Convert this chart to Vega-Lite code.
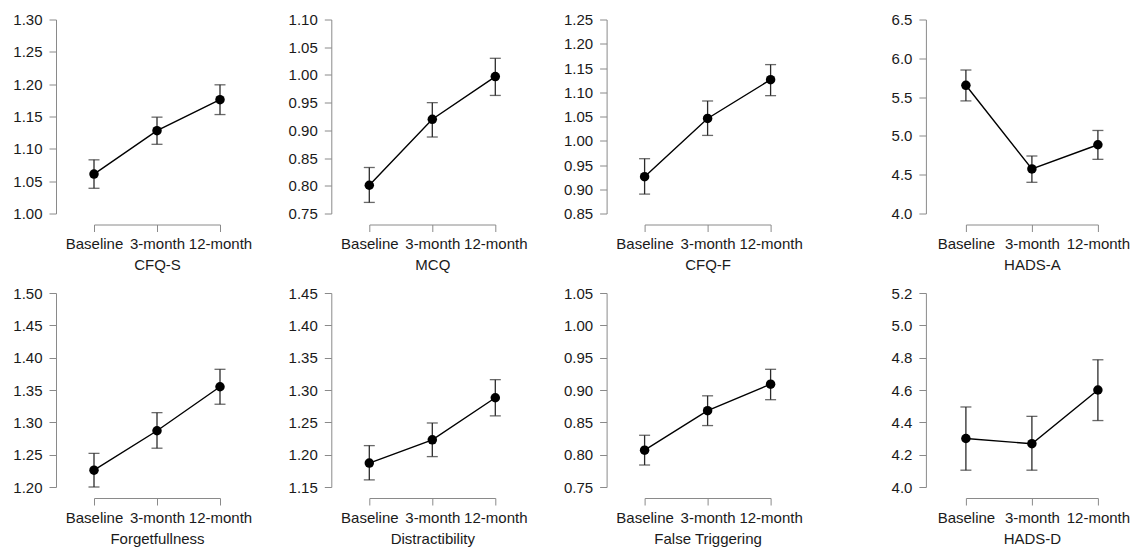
{
  "$schema": "https://vega.github.io/schema/vega-lite/v6.json",
  "padding": {"left": 6, "top": 12.5, "right": 0, "bottom": 0},
  "data": {"values": [
    {"panel": "CFQ-S", "time": "Baseline", "mean": 1.061, "lo": 1.039, "hi": 1.083},
    {"panel": "CFQ-S", "time": "3-month", "mean": 1.128, "lo": 1.107, "hi": 1.149},
    {"panel": "CFQ-S", "time": "12-month", "mean": 1.176, "lo": 1.153, "hi": 1.199},
    {"panel": "MCQ", "time": "Baseline", "mean": 0.801, "lo": 0.770, "hi": 0.833},
    {"panel": "MCQ", "time": "3-month", "mean": 0.920, "lo": 0.888, "hi": 0.950},
    {"panel": "MCQ", "time": "12-month", "mean": 0.997, "lo": 0.963, "hi": 1.030},
    {"panel": "CFQ-F", "time": "Baseline", "mean": 0.926, "lo": 0.890, "hi": 0.963},
    {"panel": "CFQ-F", "time": "3-month", "mean": 1.046, "lo": 1.011, "hi": 1.082},
    {"panel": "CFQ-F", "time": "12-month", "mean": 1.126, "lo": 1.093, "hi": 1.157},
    {"panel": "HADS-A", "time": "Baseline", "mean": 5.652, "lo": 5.451, "hi": 5.849},
    {"panel": "HADS-A", "time": "3-month", "mean": 4.574, "lo": 4.402, "hi": 4.741},
    {"panel": "HADS-A", "time": "12-month", "mean": 4.886, "lo": 4.698, "hi": 5.070},
    {"panel": "Forgetfullness", "time": "Baseline", "mean": 1.226, "lo": 1.200, "hi": 1.252},
    {"panel": "Forgetfullness", "time": "3-month", "mean": 1.287, "lo": 1.260, "hi": 1.315},
    {"panel": "Forgetfullness", "time": "12-month", "mean": 1.355, "lo": 1.328, "hi": 1.382},
    {"panel": "Distractibility", "time": "Baseline", "mean": 1.187, "lo": 1.161, "hi": 1.214},
    {"panel": "Distractibility", "time": "3-month", "mean": 1.223, "lo": 1.197, "hi": 1.249},
    {"panel": "Distractibility", "time": "12-month", "mean": 1.288, "lo": 1.260, "hi": 1.316},
    {"panel": "False Triggering", "time": "Baseline", "mean": 0.807, "lo": 0.784, "hi": 0.830},
    {"panel": "False Triggering", "time": "3-month", "mean": 0.868, "lo": 0.845, "hi": 0.891},
    {"panel": "False Triggering", "time": "12-month", "mean": 0.909, "lo": 0.885, "hi": 0.932},
    {"panel": "HADS-D", "time": "Baseline", "mean": 4.300, "lo": 4.104, "hi": 4.495},
    {"panel": "HADS-D", "time": "3-month", "mean": 4.268, "lo": 4.104, "hi": 4.437},
    {"panel": "HADS-D", "time": "12-month", "mean": 4.600, "lo": 4.411, "hi": 4.787}
  ]},
  "spacing": 13.5,
  "vconcat": [
    {
      "spacing": 29.3,
      "hconcat": [
        {
          "width": 126, "height": 194,
          "transform": [{"filter": "datum.panel == 'CFQ-S'"}],
          "encoding": {"x": {"field": "time", "type": "ordinal", "sort": ["Baseline", "3-month", "12-month"], "scale": {"type": "point", "padding": 0}, "axis": {"title": "CFQ-S"}}},
          "layer": [
            {"mark": {"type": "rule", "color": "#2b2b2b", "strokeWidth": 1.3}, "encoding": {"y": {"field": "lo", "type": "quantitative", "title": null, "scale": {"domain": [1.0, 1.3], "zero": false, "nice": false}, "axis": {"values": [1.0, 1.05, 1.1, 1.15, 1.2, 1.25, 1.3], "tickCount": 30, "format": ".2f", "offset": 38, "minExtent": 50}}, "y2": {"field": "hi"}}},
            {"mark": {"type": "tick", "color": "#2b2b2b", "size": 11, "thickness": 1.3}, "encoding": {"y": {"field": "lo", "type": "quantitative", "title": null}}},
            {"mark": {"type": "tick", "color": "#2b2b2b", "size": 11, "thickness": 1.3}, "encoding": {"y": {"field": "hi", "type": "quantitative", "title": null}}},
            {"mark": {"type": "line", "color": "#000000", "strokeWidth": 1.4}, "encoding": {"y": {"field": "mean", "type": "quantitative", "title": null}}},
            {"mark": {"type": "point", "filled": true, "color": "#000000", "size": 90, "opacity": 1}, "encoding": {"y": {"field": "mean", "type": "quantitative", "title": null}}}
          ]
        },
        {
          "width": 126, "height": 194,
          "transform": [{"filter": "datum.panel == 'MCQ'"}],
          "encoding": {"x": {"field": "time", "type": "ordinal", "sort": ["Baseline", "3-month", "12-month"], "scale": {"type": "point", "padding": 0}, "axis": {"title": "MCQ"}}},
          "layer": [
            {"mark": {"type": "rule", "color": "#2b2b2b", "strokeWidth": 1.3}, "encoding": {"y": {"field": "lo", "type": "quantitative", "title": null, "scale": {"domain": [0.75, 1.1], "zero": false, "nice": false}, "axis": {"values": [0.75, 0.8, 0.85, 0.9, 0.95, 1.0, 1.05, 1.1], "tickCount": 30, "format": ".2f", "offset": 38, "minExtent": 50}}, "y2": {"field": "hi"}}},
            {"mark": {"type": "tick", "color": "#2b2b2b", "size": 11, "thickness": 1.3}, "encoding": {"y": {"field": "lo", "type": "quantitative", "title": null}}},
            {"mark": {"type": "tick", "color": "#2b2b2b", "size": 11, "thickness": 1.3}, "encoding": {"y": {"field": "hi", "type": "quantitative", "title": null}}},
            {"mark": {"type": "line", "color": "#000000", "strokeWidth": 1.4}, "encoding": {"y": {"field": "mean", "type": "quantitative", "title": null}}},
            {"mark": {"type": "point", "filled": true, "color": "#000000", "size": 90, "opacity": 1}, "encoding": {"y": {"field": "mean", "type": "quantitative", "title": null}}}
          ]
        },
        {
          "width": 126, "height": 194,
          "transform": [{"filter": "datum.panel == 'CFQ-F'"}],
          "encoding": {"x": {"field": "time", "type": "ordinal", "sort": ["Baseline", "3-month", "12-month"], "scale": {"type": "point", "padding": 0}, "axis": {"title": "CFQ-F"}}},
          "layer": [
            {"mark": {"type": "rule", "color": "#2b2b2b", "strokeWidth": 1.3}, "encoding": {"y": {"field": "lo", "type": "quantitative", "title": null, "scale": {"domain": [0.85, 1.25], "zero": false, "nice": false}, "axis": {"values": [0.85, 0.9, 0.95, 1.0, 1.05, 1.1, 1.15, 1.2, 1.25], "tickCount": 30, "format": ".2f", "offset": 38, "minExtent": 50}}, "y2": {"field": "hi"}}},
            {"mark": {"type": "tick", "color": "#2b2b2b", "size": 11, "thickness": 1.3}, "encoding": {"y": {"field": "lo", "type": "quantitative", "title": null}}},
            {"mark": {"type": "tick", "color": "#2b2b2b", "size": 11, "thickness": 1.3}, "encoding": {"y": {"field": "hi", "type": "quantitative", "title": null}}},
            {"mark": {"type": "line", "color": "#000000", "strokeWidth": 1.4}, "encoding": {"y": {"field": "mean", "type": "quantitative", "title": null}}},
            {"mark": {"type": "point", "filled": true, "color": "#000000", "size": 90, "opacity": 1}, "encoding": {"y": {"field": "mean", "type": "quantitative", "title": null}}}
          ]
        },
        {
          "width": 132, "height": 194,
          "transform": [{"filter": "datum.panel == 'HADS-A'"}],
          "encoding": {"x": {"field": "time", "type": "ordinal", "sort": ["Baseline", "3-month", "12-month"], "scale": {"type": "point", "padding": 0}, "axis": {"title": "HADS-A"}}},
          "layer": [
            {"mark": {"type": "rule", "color": "#2b2b2b", "strokeWidth": 1.3}, "encoding": {"y": {"field": "lo", "type": "quantitative", "title": null, "scale": {"domain": [4.0, 6.5], "zero": false, "nice": false}, "axis": {"values": [4.0, 4.5, 5.0, 5.5, 6.0, 6.5], "tickCount": 30, "format": ".1f", "offset": 40, "minExtent": 94}}, "y2": {"field": "hi"}}},
            {"mark": {"type": "tick", "color": "#2b2b2b", "size": 11, "thickness": 1.3}, "encoding": {"y": {"field": "lo", "type": "quantitative", "title": null}}},
            {"mark": {"type": "tick", "color": "#2b2b2b", "size": 11, "thickness": 1.3}, "encoding": {"y": {"field": "hi", "type": "quantitative", "title": null}}},
            {"mark": {"type": "line", "color": "#000000", "strokeWidth": 1.4}, "encoding": {"y": {"field": "mean", "type": "quantitative", "title": null}}},
            {"mark": {"type": "point", "filled": true, "color": "#000000", "size": 90, "opacity": 1}, "encoding": {"y": {"field": "mean", "type": "quantitative", "title": null}}}
          ]
        }
      ]
    },
    {
      "spacing": 29.3,
      "hconcat": [
        {
          "width": 126, "height": 194,
          "transform": [{"filter": "datum.panel == 'Forgetfullness'"}],
          "encoding": {"x": {"field": "time", "type": "ordinal", "sort": ["Baseline", "3-month", "12-month"], "scale": {"type": "point", "padding": 0}, "axis": {"title": "Forgetfullness"}}},
          "layer": [
            {"mark": {"type": "rule", "color": "#2b2b2b", "strokeWidth": 1.3}, "encoding": {"y": {"field": "lo", "type": "quantitative", "title": null, "scale": {"domain": [1.2, 1.5], "zero": false, "nice": false}, "axis": {"values": [1.2, 1.25, 1.3, 1.35, 1.4, 1.45, 1.5], "tickCount": 30, "format": ".2f", "offset": 38, "minExtent": 50}}, "y2": {"field": "hi"}}},
            {"mark": {"type": "tick", "color": "#2b2b2b", "size": 11, "thickness": 1.3}, "encoding": {"y": {"field": "lo", "type": "quantitative", "title": null}}},
            {"mark": {"type": "tick", "color": "#2b2b2b", "size": 11, "thickness": 1.3}, "encoding": {"y": {"field": "hi", "type": "quantitative", "title": null}}},
            {"mark": {"type": "line", "color": "#000000", "strokeWidth": 1.4}, "encoding": {"y": {"field": "mean", "type": "quantitative", "title": null}}},
            {"mark": {"type": "point", "filled": true, "color": "#000000", "size": 90, "opacity": 1}, "encoding": {"y": {"field": "mean", "type": "quantitative", "title": null}}}
          ]
        },
        {
          "width": 126, "height": 194,
          "transform": [{"filter": "datum.panel == 'Distractibility'"}],
          "encoding": {"x": {"field": "time", "type": "ordinal", "sort": ["Baseline", "3-month", "12-month"], "scale": {"type": "point", "padding": 0}, "axis": {"title": "Distractibility"}}},
          "layer": [
            {"mark": {"type": "rule", "color": "#2b2b2b", "strokeWidth": 1.3}, "encoding": {"y": {"field": "lo", "type": "quantitative", "title": null, "scale": {"domain": [1.15, 1.45], "zero": false, "nice": false}, "axis": {"values": [1.15, 1.2, 1.25, 1.3, 1.35, 1.4, 1.45], "tickCount": 30, "format": ".2f", "offset": 38, "minExtent": 50}}, "y2": {"field": "hi"}}},
            {"mark": {"type": "tick", "color": "#2b2b2b", "size": 11, "thickness": 1.3}, "encoding": {"y": {"field": "lo", "type": "quantitative", "title": null}}},
            {"mark": {"type": "tick", "color": "#2b2b2b", "size": 11, "thickness": 1.3}, "encoding": {"y": {"field": "hi", "type": "quantitative", "title": null}}},
            {"mark": {"type": "line", "color": "#000000", "strokeWidth": 1.4}, "encoding": {"y": {"field": "mean", "type": "quantitative", "title": null}}},
            {"mark": {"type": "point", "filled": true, "color": "#000000", "size": 90, "opacity": 1}, "encoding": {"y": {"field": "mean", "type": "quantitative", "title": null}}}
          ]
        },
        {
          "width": 126, "height": 194,
          "transform": [{"filter": "datum.panel == 'False Triggering'"}],
          "encoding": {"x": {"field": "time", "type": "ordinal", "sort": ["Baseline", "3-month", "12-month"], "scale": {"type": "point", "padding": 0}, "axis": {"title": "False Triggering"}}},
          "layer": [
            {"mark": {"type": "rule", "color": "#2b2b2b", "strokeWidth": 1.3}, "encoding": {"y": {"field": "lo", "type": "quantitative", "title": null, "scale": {"domain": [0.75, 1.05], "zero": false, "nice": false}, "axis": {"values": [0.75, 0.8, 0.85, 0.9, 0.95, 1.0, 1.05], "tickCount": 30, "format": ".2f", "offset": 38, "minExtent": 50}}, "y2": {"field": "hi"}}},
            {"mark": {"type": "tick", "color": "#2b2b2b", "size": 11, "thickness": 1.3}, "encoding": {"y": {"field": "lo", "type": "quantitative", "title": null}}},
            {"mark": {"type": "tick", "color": "#2b2b2b", "size": 11, "thickness": 1.3}, "encoding": {"y": {"field": "hi", "type": "quantitative", "title": null}}},
            {"mark": {"type": "line", "color": "#000000", "strokeWidth": 1.4}, "encoding": {"y": {"field": "mean", "type": "quantitative", "title": null}}},
            {"mark": {"type": "point", "filled": true, "color": "#000000", "size": 90, "opacity": 1}, "encoding": {"y": {"field": "mean", "type": "quantitative", "title": null}}}
          ]
        },
        {
          "width": 132, "height": 194,
          "transform": [{"filter": "datum.panel == 'HADS-D'"}],
          "encoding": {"x": {"field": "time", "type": "ordinal", "sort": ["Baseline", "3-month", "12-month"], "scale": {"type": "point", "padding": 0}, "axis": {"title": "HADS-D"}}},
          "layer": [
            {"mark": {"type": "rule", "color": "#2b2b2b", "strokeWidth": 1.3}, "encoding": {"y": {"field": "lo", "type": "quantitative", "title": null, "scale": {"domain": [4.0, 5.2], "zero": false, "nice": false}, "axis": {"values": [4.0, 4.2, 4.4, 4.6, 4.8, 5.0, 5.2], "tickCount": 30, "format": ".1f", "offset": 40, "minExtent": 94}}, "y2": {"field": "hi"}}},
            {"mark": {"type": "tick", "color": "#2b2b2b", "size": 11, "thickness": 1.3}, "encoding": {"y": {"field": "lo", "type": "quantitative", "title": null}}},
            {"mark": {"type": "tick", "color": "#2b2b2b", "size": 11, "thickness": 1.3}, "encoding": {"y": {"field": "hi", "type": "quantitative", "title": null}}},
            {"mark": {"type": "line", "color": "#000000", "strokeWidth": 1.4}, "encoding": {"y": {"field": "mean", "type": "quantitative", "title": null}}},
            {"mark": {"type": "point", "filled": true, "color": "#000000", "size": 90, "opacity": 1}, "encoding": {"y": {"field": "mean", "type": "quantitative", "title": null}}}
          ]
        }
      ]
    }
  ],
  "config": {
    "view": {"stroke": null},
    "font": "Liberation Sans",
    "axis": {"grid": false, "domainColor": "#8a8a8a", "tickColor": "#8a8a8a", "domainWidth": 1, "tickWidth": 1, "tickSize": 7, "labelFont": "Liberation Sans", "labelFontSize": 15, "labelColor": "#1a1a1a", "titleFont": "Liberation Sans", "titleFontSize": 15, "titleFontWeight": "normal", "titleColor": "#1a1a1a"},
    "axisX": {"offset": 11, "labelAngle": 0, "labelPadding": 5, "titlePadding": 6, "labelOverlap": false},
    "axisY": {"labelPadding": 7, "labelOverlap": false}
  }
}
